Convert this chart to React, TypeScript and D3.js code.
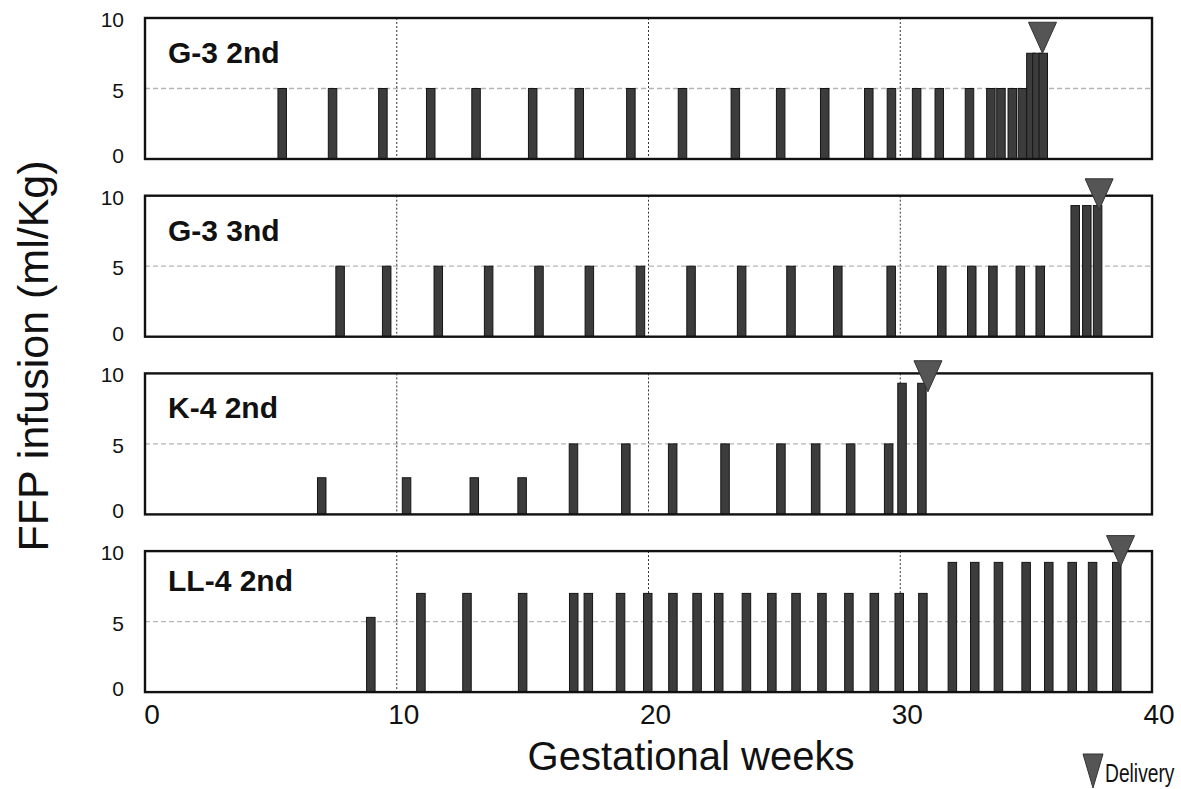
import React from "react";
import * as d3 from "d3";

// ---- data (gestational week of each infusion, dose in ml/kg) ----
const PANEL_LABELS = ["G-3 2nd", "G-3 3nd", "K-4 2nd", "LL-4 2nd"];

const WEEKS_G3_2ND = [5.45, 7.45, 9.45, 11.35, 13.15, 15.4, 17.25, 19.3, 21.35, 23.45, 25.25, 27.0, 28.75, 29.65, 30.65, 31.55, 32.75, 33.6, 34.0, 34.45, 34.85, 35.19, 35.43, 35.68];
const DOSE_G3_2ND = [5, 5, 5, 5, 5, 5, 5, 5, 5, 5, 5, 5, 5, 5, 5, 5, 5, 5, 5, 5, 5, 7.5, 7.5, 7.5];

const WEEKS_G3_3ND = [7.75, 9.6, 11.65, 13.65, 15.65, 17.65, 19.68, 21.69, 23.7, 25.66, 27.52, 29.64, 31.65, 32.84, 33.68, 34.77, 35.56, 36.95, 37.41, 37.84];
const DOSE_G3_3ND = [5, 5, 5, 5, 5, 5, 5, 5, 5, 5, 5, 5, 5, 5, 5, 5, 5, 9.3, 9.3, 9.3];

const WEEKS_K4_2ND = [7.02, 10.39, 13.08, 14.98, 17.02, 19.1, 20.96, 23.04, 25.26, 26.64, 28.03, 29.54, 30.07, 30.86];
const DOSE_K4_2ND = [2.6, 2.6, 2.6, 2.6, 5, 5, 5, 5, 5, 5, 5, 5, 9.3, 9.3];

const WEEKS_LL4_2ND = [8.97, 10.96, 12.79, 15.0, 17.03, 17.61, 18.89, 19.97, 20.97, 21.93, 22.79, 23.89, 24.9, 25.86, 26.89, 27.96, 28.97, 29.96, 30.9, 32.07, 32.96, 33.9, 35.0, 35.9, 36.83, 37.64, 38.6];
const DOSE_LL4_2ND = [5.3, 7, 7, 7, 7, 7, 7, 7, 7, 7, 7, 7, 7, 7, 7, 7, 7, 7, 7, 9.2, 9.2, 9.2, 9.2, 9.2, 9.2, 9.2, 9.2];

const DELIVERY_WEEK = [35.65, 37.9, 31.1, 38.75];
const DELIVERY_TIP = [7.5, 9.0, 8.7, 8.9];

const X_TICKS = [0, 10, 20, 30, 40];
const Y_TICKS = [0, 5, 10];
const GRID_WEEKS = [10, 20, 30];

const SERIES_WEEKS = [WEEKS_G3_2ND, WEEKS_G3_3ND, WEEKS_K4_2ND, WEEKS_LL4_2ND];
const SERIES_DOSE = [DOSE_G3_2ND, DOSE_G3_3ND, DOSE_K4_2ND, DOSE_LL4_2ND];

// ---- layout ----
const W = 1181;
const H = 789;
const FONT = "'Liberation Sans', Arial, Helvetica, sans-serif";
const PANEL_TOP0 = 18;
const PANEL_STEP = 177.7;
const PANEL_H = 141;
const BAR_W = 8.5;
const TRI_W = 28;
const TRI_H = 31;

export default function App() {
  const x = d3.scaleLinear().domain([0, 40]).range([145, 1152]);

  const panels = PANEL_LABELS.map((label, i) => {
    const top = PANEL_TOP0 + i * PANEL_STEP;
    const y = d3.scaleLinear().domain([0, 10]).range([top + PANEL_H, top]);
    const weeks = SERIES_WEEKS[i];
    const doses = SERIES_DOSE[i];
    const tipX = x(DELIVERY_WEEK[i]);
    const tipY = y(DELIVERY_TIP[i]);
    const tri = d3.line()([
      [tipX - TRI_W / 2, tipY - TRI_H],
      [tipX + TRI_W / 2, tipY - TRI_H],
      [tipX, tipY],
    ]) + "Z";
    return (
      <g key={label}>
        <line x1={x(0)} x2={x(40)} y1={y(5)} y2={y(5)} stroke="#b5b5b5" strokeWidth={1.3} strokeDasharray="5,3" />
        {GRID_WEEKS.map((g) => (
          <line key={g} x1={x(g)} x2={x(g)} y1={y(10)} y2={y(0)} stroke="#333" strokeWidth={1} strokeDasharray="2,2" />
        ))}
        {weeks.map((w, j) => (
          <rect
            key={j}
            x={x(w) - BAR_W / 2}
            y={y(doses[j])}
            width={BAR_W}
            height={y(0) - y(doses[j])}
            fill="#3c3c3c"
            stroke="#151515"
            strokeWidth={1}
          />
        ))}
        <rect x={x(0)} y={top} width={x(40) - x(0)} height={PANEL_H} fill="none" stroke="#111" strokeWidth={2.4} />
        {Y_TICKS.map((t) => (
          <text
            key={t}
            x={124}
            y={y(t) + (t === 0 ? 4 : 9)}
            textAnchor="end"
            fontFamily={FONT}
            fontSize={21}
            fill="#111"
          >
            {t}
          </text>
        ))}
        <text x={168} y={top + (i === 3 ? 40 : 45)} fontFamily={FONT} fontSize={30} fontWeight="bold" fill="#111">
          {label}
        </text>
        <path d={tri} fill="#555" stroke="#333" strokeWidth={1} />
      </g>
    );
  });

  return (
    <svg width={W} height={H} style={{ position: "absolute", left: 0, top: 0, background: "#fff" }}>
      <rect x={0} y={0} width={W} height={H} fill="#fff" />
      {panels}
      {X_TICKS.map((t) => (
        <text key={t} x={x(t) + 7} y={724} textAnchor="middle" fontFamily={FONT} fontSize={28} fill="#111">
          {t}
        </text>
      ))}
      <text x={691} y={770} textAnchor="middle" fontFamily={FONT} fontSize={40} fill="#111">
        Gestational weeks
      </text>
      <text
        transform="translate(48,356) rotate(-90)"
        textAnchor="middle"
        fontFamily={FONT}
        fontSize={43}
        fill="#111"
      >
        FFP infusion (ml/Kg)
      </text>
      {/* legend */}
      <path d={d3.line()([[1083, 754], [1103, 754], [1093, 788]]) + "Z"} fill="#555" stroke="#333" strokeWidth={1} />
      <text transform="translate(1105,782) scale(0.74,1)" fontFamily={FONT} fontSize={26} fill="#111">
        Delivery
      </text>
    </svg>
  );
}
